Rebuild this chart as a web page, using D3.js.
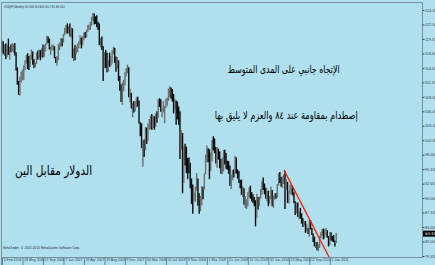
<!DOCTYPE html>
<html>
<head>
<meta charset="utf-8">
<script src="https://cdn.jsdelivr.net/npm/d3@7"></script>
<style>
  body { margin: 0; background: #b0e0ee; }
  svg { display: block; }
</style>
</head>
<body>
<svg id="chart"></svg>
<script>
// weekly bars [high, low, close], one array per year (week of 5 Feb 2006 onwards)
const bars2006 = [
  [119.0,116.8,118.6],[118.9,116.5,117.1],[118.3,116.2,117.9],[118.5,115.6,116.1],
  [118.2,116.0,117.9],[119.4,116.4,116.9],[117.9,115.5,117.6],[118.3,116.9,117.4],
  [118.6,117.0,117.4],[118.4,116.8,117.5],[118.6,116.3,116.8],[116.9,113.5,113.9],
  [114.1,110.9,111.3],[111.6,109.0,109.3],[112.4,108.9,111.9],[113.3,111.3,112.0],
  [113.7,111.7,112.6],[114.5,111.8,114.3],[115.4,113.6,114.8],[116.4,114.8,116.0],
  [116.7,113.8,114.4],[116.2,113.6,114.3],[116.4,114.2,116.0],[117.4,115.5,116.5],
  [117.0,114.6,114.7],[115.6,114.0,114.5],[115.0,114.1,114.8],[116.8,114.7,116.3],
  [117.2,115.5,116.2],[117.4,115.8,117.2],[117.3,115.4,116.0],[117.6,115.9,117.3],
  [118.3,115.9,116.3],[118.2,116.0,117.9],[118.5,117.0,118.4],[119.9,118.3,119.3],
  [119.8,118.6,118.9],[119.4,117.4,117.6],[117.9,116.4,117.6],[118.3,117.3,117.9],
  [118.3,117.2,118.0],[118.0,115.8,116.0],[116.0,114.9,115.4],[116.2,114.4,115.6],
  [118.4,115.4,118.1],[118.7,117.3,118.2],[119.5,117.9,119.1],[119.4,118.0,118.9]
];
const bars2007 = [
  [120.3,118.7,120.2],[121.4,120.0,121.0],[121.9,120.4,121.8],[122.2,120.3,120.9],
  [121.7,120.4,121.6],[122.2,119.8,119.9],[121.5,119.6,121.1],[121.3,115.8,116.0],
  [117.6,115.2,117.1],[118.2,115.4,116.5],[117.9,116.5,117.5],[118.5,116.9,118.0],
  [118.9,117.6,118.5],[120.0,118.3,119.6],[119.6,117.6,118.4],[119.9,118.2,119.6],
  [120.5,119.1,120.2],[120.6,119.5,119.8],[121.0,119.6,121.0],[121.9,120.6,121.5],
  [122.0,121.0,121.9],[122.5,121.0,121.9],[123.4,121.8,122.9],[124.1,122.7,123.9],
  [124.0,122.0,123.2],[123.5,122.1,122.9],[123.7,121.5,121.8],[122.5,121.0,121.6],
  [122.2,118.2,118.7],[119.5,117.8,118.7],[119.8,117.3,117.4],[118.0,111.6,114.3],
  [116.9,113.9,115.9],[117.3,114.0,115.8],[116.8,113.2,113.4],[115.4,113.3,115.0],
  [116.8,114.2,114.9],[116.3,114.3,115.1],[117.3,114.8,117.0],[117.9,116.5,117.6],
  [117.7,114.9,115.3],[116.1,113.3,114.7],[116.0,113.9,114.7],[115.4,111.6,112.0],
  [112.5,109.8,110.4],[111.0,107.7,108.2],[111.3,107.2,110.9],[111.8,109.7,111.6],
  [113.2,110.8,113.0],[114.0,112.4,113.4],[114.6,113.0,113.8],[114.1,108.6,108.8]
];
const bars2008 = [
  [110.2,107.6,109.3],[109.4,106.5,106.8],[107.6,104.9,106.8],[107.9,105.8,106.6],
  [107.9,106.0,107.4],[108.6,106.7,108.1],[108.7,106.9,107.0],[108.0,103.7,103.9],
  [104.0,101.4,102.5],[103.8,99.2,99.3],[100.6,95.8,99.6],[100.8,97.6,98.6],
  [103.1,98.8,101.5],[103.0,100.0,101.4],[103.8,100.6,103.5],[104.6,102.6,104.3],
  [105.2,102.7,105.0],[105.5,102.6,103.0],[105.2,102.9,104.8],[105.1,102.6,103.4],
  [105.6,103.1,105.5],[106.0,103.9,104.9],[108.2,104.8,108.0],[108.4,106.8,107.1],
  [108.2,105.9,106.1],[106.6,104.9,106.1],[107.9,105.8,106.6],[107.0,103.8,106.9],
  [108.3,106.6,107.9],[108.5,107.0,108.1],[110.2,107.9,110.0],[110.6,108.6,110.4],
  [110.4,108.3,109.6],[110.1,107.8,108.8],[109.2,105.6,107.8],[108.3,106.3,107.8],
  [108.0,103.5,107.4],[107.8,104.5,105.9],[106.9,103.5,105.1],[106.0,97.2,100.3],
  [102.5,98.9,101.8],[102.0,90.9,94.3],[99.5,92.8,98.5],[100.0,96.0,98.2],
  [99.5,94.6,96.8],[97.4,93.5,95.8],[97.5,94.6,95.5],[96.5,91.8,92.7],
  [93.6,88.9,91.0],[92.5,87.1,89.6],[91.0,89.5,90.7],[92.1,89.3,91.9]
];
const bars2009 = [
  [94.6,91.4,93.2],[93.6,88.6,90.6],[90.9,87.1,88.8],[90.4,87.6,89.9],
  [92.2,88.7,92.0],[92.1,89.8,91.8],[94.5,91.6,94.2],[98.0,94.4,97.6],
  [99.7,96.6,98.2],[99.2,96.6,97.8],[99.0,93.5,95.6],[98.4,95.0,97.6],
  [100.7,96.8,100.6],[101.4,98.8,99.6],[101.0,98.3,99.0],[99.4,96.4,97.4],
  [99.4,95.6,98.8],[99.1,97.1,98.2],[98.6,95.5,95.6],[97.2,94.5,94.9],
  [97.5,94.4,95.4],[98.9,94.9,98.5],[98.9,96.2,98.2],[98.3,95.4,96.3],
  [96.9,95.2,96.2],[96.8,94.5,95.8],[96.0,92.3,92.7],[94.3,91.7,94.1],
  [95.2,93.3,94.8],[95.3,93.8,94.7],[97.8,94.5,97.5],[97.5,94.5,94.7],
  [95.3,93.6,94.4],[95.0,92.8,93.1],[93.4,91.8,92.5],[93.4,90.6,90.7],
  [92.2,90.2,91.3],[91.8,88.8,89.6],[90.4,88.2,89.7],[89.8,88.0,89.8],
  [91.1,88.5,90.9],[92.0,90.1,91.9],[92.3,89.9,90.1],[91.1,89.4,89.9],
  [90.7,89.1,89.7],[90.2,88.5,88.9],[89.6,84.8,86.6],[90.8,86.3,90.4],
  [90.2,87.9,89.1],[90.3,88.6,90.0],[91.7,89.9,91.6],[93.1,90.6,93.0]
];
const bars2010 = [
  [93.8,91.5,92.3],[92.7,90.7,90.8],[91.9,89.9,90.1],[91.3,89.4,90.2],
  [91.4,88.5,89.3],[90.4,88.9,89.9],[92.1,89.8,91.4],[91.5,88.5,89.0],
  [90.5,88.2,90.1],[90.9,89.7,90.5],[90.9,89.9,90.3],[92.6,90.1,92.5],
  [94.6,92.3,94.5],[94.8,92.8,93.1],[93.9,92.1,92.2],[94.0,91.9,93.9],
  [94.4,92.6,94.0],[95.0,88.0,91.1],[93.5,91.5,92.4],[93.0,89.1,90.0],
  [91.4,89.0,91.1],[92.5,90.8,91.6],[92.4,90.6,91.6],[92.0,90.5,90.7],
  [91.1,89.1,89.2],[89.4,86.9,87.7],[89.2,87.2,88.6],[89.2,86.5,86.5],
  [87.5,86.1,86.8],[88.2,86.2,86.5],[87.2,85.3,85.4],[86.3,84.7,85.2],
  [85.8,84.9,85.6],[85.8,83.6,84.3],[85.2,83.9,84.3],[84.5,83.4,83.8],
  [86.0,82.9,85.8],[85.9,84.2,84.3],[84.5,83.2,83.3],[83.5,81.9,82.0],
  [82.9,81.1,81.4],[81.9,80.8,81.4],[81.9,80.4,80.4],[81.5,80.2,81.3],
  [83.0,80.8,82.6],[83.7,82.6,83.5],[84.3,83.0,84.0],[84.4,82.4,82.6],
  [84.3,82.6,83.9],[84.5,83.1,83.9],[84.1,82.7,82.9],[83.0,81.1,81.2]
];
const bars2011 = [
  [83.7,81.3,83.3],[83.7,82.2,82.8],[83.0,82.0,82.5],[83.2,81.9,82.1],
  [82.2,81.1,81.7],[83.6,81.7,83.4]
];
const firstOpen = 117.4;

// x axis: one label every 16 weekly bars
const dateLabels = ["5 Feb 2006", "28 May 2006", "17 Sep 2006", "7 Jan 2007", "29 Apr 2007",
  "19 Aug 2007", "9 Dec 2007", "30 Mar 2008", "20 Jul 2008", "9 Nov 2008", "1 Mar 2009",
  "21 Jun 2009", "11 Oct 2009", "31 Jan 2010", "23 May 2010", "12 Sep 2010", "2 Jan 2011"];
const priceTicks = [124.667, 122.000, 119.333, 116.667, 114.000, 111.333, 108.667, 106.000,
  103.333, 100.667, 98.000, 95.333, 92.667, 90.000, 87.333, 84.667, 82.000, 79.333];
const lastPrice = 83.452;

// trend line drawn on the chart (bar index, price)
const trendLine = [[220.2, 95.2], [255.4, 79.15]];

const titleText = "USDJPY,Weekly  83.282 83.605 81.710 83.452";
const notes = [
  { text: "الإتجاه جانبي على المدى المتوسط", bar: 220, price: 113.1, size: 11, len: 112 },
  { text: "إصطدام بمقاومة عند ٨٤ والعزم لا يليق بها", bar: 222, price: 104.6, size: 11, len: 143 },
  { text: "الدولار مقابل الين", bar: 40.3, price: 94.3, size: 13, len: 77 }
];

const width = 435, height = 265;
const plot = { left: 1, top: 2, right: 422, bottom: 257 };

const bars = [].concat(bars2006, bars2007, bars2008, bars2009, bars2010, bars2011)
  .map((d, i, arr) => ({
    i: i,
    high: d[0],
    low: d[1],
    close: d[2],
    open: i === 0 ? firstOpen : arr[i - 1][2]
  }));

const x = d3.scaleLinear().domain([0, 328]).range([2, 422]);
const y = d3.scaleLinear().domain([79.333, 124.667]).range([256, 10]);

const svg = d3.select('#chart')
  .attr('width', width)
  .attr('height', height)
  .style('font-family', 'Tahoma, "DejaVu Sans", sans-serif');

svg.append('rect')
  .attr('width', width).attr('height', height)
  .attr('fill', '#b0e0ee');

// frame
svg.append('path')
  .attr('d', `M${plot.left + 0.5},${height}V${plot.top + 0.5}H${plot.right + 0.5}V${plot.bottom + 0.5}H${plot.left}`)
  .attr('fill', 'none')
  .attr('stroke', '#78909c')
  .attr('stroke-width', 1);

// bars
const barG = svg.append('g');
barG.selectAll('line.hl')
  .data(bars)
  .enter()
  .append('line')
  .attr('class', 'hl')
  .attr('x1', d => x(d.i))
  .attr('x2', d => x(d.i))
  .attr('y1', d => y(d.high))
  .attr('y2', d => y(d.low))
  .attr('stroke', d => d.close >= d.open ? '#6e6e6e' : '#0a0a0a')
  .attr('stroke-width', 1.4);

// trend line
svg.append('line')
  .attr('x1', x(trendLine[0][0])).attr('y1', y(trendLine[0][1]))
  .attr('x2', x(trendLine[1][0])).attr('y2', y(trendLine[1][1]))
  .attr('stroke', '#ff1a00')
  .attr('stroke-width', 1.3);

// price axis
const yAxis = d3.axisRight(y)
  .tickValues(priceTicks)
  .tickSize(2)
  .tickFormat(d3.format('.3f'));
const yG = svg.append('g')
  .attr('transform', `translate(${plot.right + 0.5},0)`)
  .call(yAxis);
yG.select('.domain').remove();
yG.selectAll('.tick line').attr('stroke', '#34495e');
yG.selectAll('.tick text')
  .attr('x', 2.5)
  .attr('fill', '#2c3e50')
  .style('font-size', '3.8px');

// current price marker
const lp = svg.append('g').attr('transform', `translate(${plot.right + 1},${y(lastPrice)})`);
lp.append('rect').attr('x', 0).attr('y', -3).attr('width', 13).attr('height', 6).attr('fill', '#000');
lp.append('text').attr('x', 2).attr('y', 1.4).attr('fill', '#fff')
  .style('font-size', '3.8px').text(d3.format('.3f')(lastPrice));

// time axis
const xAxis = d3.axisBottom(x)
  .tickValues(dateLabels.map((d, k) => k * 16))
  .tickSize(8)
  .tickFormat((d, k) => dateLabels[k]);
const xG = svg.append('g')
  .attr('transform', `translate(0,${plot.bottom + 0.5})`)
  .call(xAxis);
xG.select('.domain').remove();
xG.selectAll('.tick line').attr('stroke', '#34495e').attr('stroke-width', 0.6);
xG.selectAll('.tick text')
  .attr('y', 3.6)
  .attr('dy', 0)
  .attr('x', 1.2)
  .attr('text-anchor', 'start')
  .attr('fill', '#2c3e50')
  .style('font-size', '3.5px');

// title and copyright
svg.append('text')
  .attr('x', 4).attr('y', 7.5)
  .attr('fill', '#1b2631')
  .attr('textLength', 61)
  .attr('lengthAdjust', 'spacingAndGlyphs')
  .style('font-size', '3.8px')
  .text(titleText);
svg.append('text')
  .attr('x', 3).attr('y', 248.5)
  .attr('fill', '#1b2631')
  .attr('textLength', 77)
  .attr('lengthAdjust', 'spacingAndGlyphs')
  .style('font-size', '3.8px')
  .text('MetaTrader, © 2001-2010 MetaQuotes Software Corp.');

// arabic notes
svg.selectAll('text.note')
  .data(notes)
  .enter()
  .append('text')
  .attr('class', 'note')
  .attr('x', d => x(d.bar))
  .attr('y', d => y(d.price))
  .attr('text-anchor', 'middle')
  .attr('direction', 'rtl')
  .attr('textLength', d => d.len)
  .attr('lengthAdjust', 'spacingAndGlyphs')
  .attr('fill', '#000')
  .style('font-family', '"DejaVu Sans", sans-serif')
  .style('font-size', d => d.size + 'px')
  .text(d => d.text);
</script>
</body>
</html>
